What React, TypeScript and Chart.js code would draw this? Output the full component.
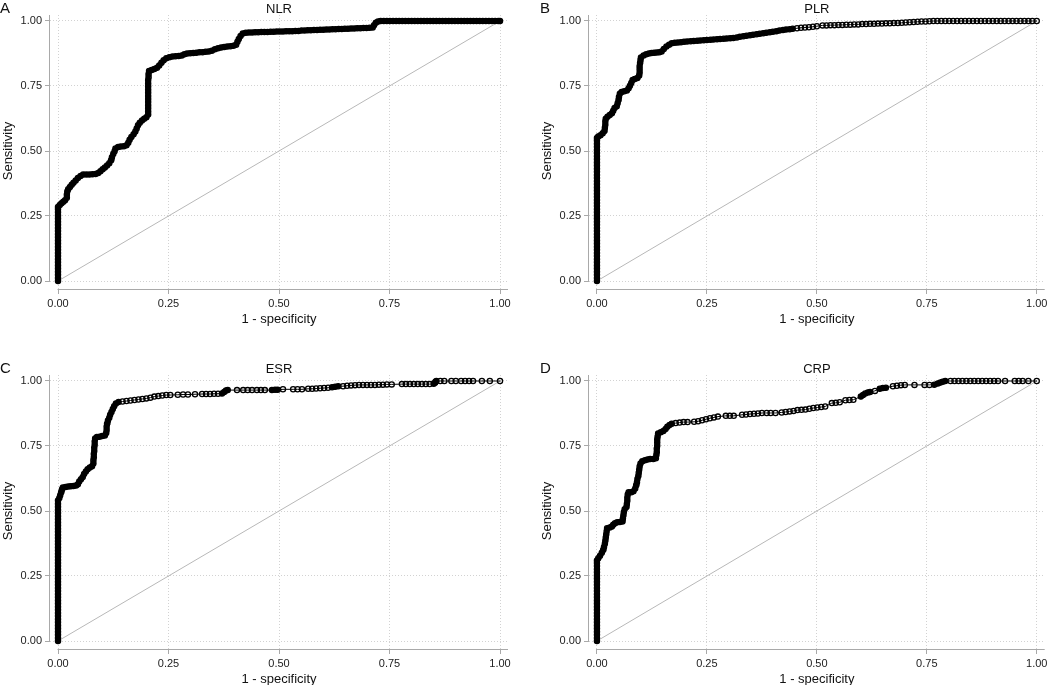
import React, { useEffect, useRef } from 'react';
import { Chart, registerables } from 'chart.js';

Chart.register(...registerables);

const tickValues = [0, 0.25, 0.5, 0.75, 1];
const xAxisTitle = '1 - specificity';
const yAxisTitle = 'Sensitivity';
const panelLetters = ['A', 'B', 'C', 'D'];
const panelTitles = ['NLR', 'PLR', 'ESR', 'CRP'];
const chanceLine = [[0, 0], [1, 1]];

const nlrRoc = [
  [0, 0], [0, 0.012], [0, 0.024], [0, 0.036], [0, 0.048], [0, 0.06], [0, 0.072], [0, 0.084], [0, 0.096], [0, 0.108],
  [0, 0.12], [0, 0.132], [0, 0.144], [0, 0.156], [0, 0.168], [0, 0.18], [0, 0.192], [0, 0.204], [0, 0.216], [0, 0.228],
  [0, 0.24], [0, 0.252], [0, 0.264], [0, 0.276], [0, 0.285],
  [0.004, 0.292], [0.008, 0.299], [0.012, 0.305], [0.016, 0.311], [0.02, 0.32], [0.02, 0.332], [0.021, 0.344], [0.023, 0.353],
  [0.027, 0.362], [0.031, 0.37], [0.035, 0.378], [0.04, 0.387], [0.045, 0.396], [0.051, 0.404], [0.057, 0.41], [0.064, 0.41],
  [0.071, 0.41], [0.078, 0.411], [0.085, 0.412], [0.091, 0.415], [0.096, 0.422], [0.101, 0.43], [0.106, 0.437], [0.111, 0.444],
  [0.116, 0.453], [0.12, 0.464], [0.122, 0.476], [0.125, 0.488], [0.128, 0.499], [0.13, 0.51], [0.136, 0.515], [0.142, 0.517],
  [0.149, 0.518], [0.155, 0.522], [0.159, 0.532], [0.162, 0.543], [0.166, 0.554], [0.171, 0.564], [0.175, 0.575], [0.178, 0.587],
  [0.181, 0.599], [0.185, 0.609], [0.19, 0.617], [0.195, 0.624], [0.2, 0.63], [0.204, 0.64], [0.204, 0.652], [0.204, 0.664],
  [0.204, 0.676], [0.204, 0.688], [0.204, 0.7], [0.204, 0.712], [0.204, 0.724], [0.204, 0.736], [0.204, 0.748], [0.204, 0.76],
  [0.204, 0.772], [0.205, 0.784], [0.205, 0.796], [0.206, 0.808], [0.212, 0.812], [0.218, 0.815], [0.224, 0.82], [0.229, 0.829],
  [0.234, 0.839], [0.239, 0.849], [0.245, 0.857], [0.252, 0.861], [0.259, 0.863], [0.266, 0.864], [0.273, 0.865], [0.28, 0.867],
  [0.286, 0.872], [0.292, 0.875], [0.299, 0.876], [0.306, 0.877], [0.313, 0.878], [0.32, 0.88], [0.327, 0.88], [0.334, 0.882],
  [0.341, 0.883], [0.348, 0.886], [0.355, 0.891], [0.362, 0.895], [0.369, 0.898], [0.376, 0.9], [0.383, 0.902], [0.39, 0.903],
  [0.397, 0.905], [0.403, 0.909], [0.406, 0.92], [0.409, 0.931], [0.413, 0.942], [0.418, 0.952], [0.425, 0.955], [0.432, 0.956],
  [0.439, 0.956], [0.446, 0.957], [0.453, 0.957], [0.46, 0.958], [0.467, 0.958], [0.474, 0.958], [0.481, 0.959], [0.488, 0.959],
  [0.495, 0.96], [0.502, 0.96], [0.509, 0.96], [0.516, 0.961], [0.523, 0.961], [0.53, 0.961], [0.537, 0.962], [0.544, 0.962],
  [0.551, 0.963], [0.558, 0.963], [0.565, 0.964], [0.572, 0.964], [0.579, 0.965], [0.586, 0.965], [0.593, 0.966], [0.6, 0.966],
  [0.607, 0.967], [0.614, 0.967], [0.621, 0.968], [0.628, 0.968], [0.635, 0.969], [0.642, 0.969], [0.649, 0.97], [0.656, 0.97],
  [0.663, 0.971], [0.67, 0.971], [0.677, 0.972], [0.684, 0.972], [0.691, 0.973], [0.698, 0.973], [0.705, 0.974], [0.712, 0.975],
  [0.715, 0.984], [0.719, 0.993], [0.724, 0.998], [0.73, 1],
  [0.737, 1], [0.744, 1], [0.751, 1], [0.758, 1], [0.765, 1], [0.772, 1], [0.779, 1], [0.786, 1], [0.793, 1], [0.8, 1],
  [0.807, 1], [0.814, 1], [0.821, 1], [0.828, 1], [0.835, 1], [0.842, 1], [0.849, 1], [0.856, 1], [0.863, 1], [0.87, 1],
  [0.877, 1], [0.884, 1], [0.891, 1], [0.898, 1], [0.905, 1], [0.912, 1], [0.919, 1], [0.926, 1], [0.933, 1], [0.94, 1],
  [0.947, 1], [0.954, 1], [0.961, 1], [0.968, 1], [0.975, 1], [0.982, 1], [0.989, 1], [0.996, 1], [1, 1],
];

const plrRoc = [
  [0, 0], [0, 0.012], [0, 0.024], [0, 0.036], [0, 0.048], [0, 0.06], [0, 0.072], [0, 0.084], [0, 0.096], [0, 0.108],
  [0, 0.12], [0, 0.132], [0, 0.144], [0, 0.156], [0, 0.168], [0, 0.18], [0, 0.192], [0, 0.204], [0, 0.216], [0, 0.228],
  [0, 0.24], [0, 0.252], [0, 0.264], [0, 0.276], [0, 0.288], [0, 0.3], [0, 0.312], [0, 0.324], [0, 0.336], [0, 0.348],
  [0, 0.36], [0, 0.372], [0, 0.384], [0, 0.396], [0, 0.408], [0, 0.42], [0, 0.432], [0, 0.444], [0, 0.456], [0, 0.468],
  [0, 0.48], [0, 0.492], [0, 0.504], [0, 0.516], [0, 0.528], [0, 0.54], [0, 0.55],
  [0.003, 0.556], [0.008, 0.561], [0.013, 0.568], [0.017, 0.577], [0.018, 0.589], [0.019, 0.601], [0.019, 0.613], [0.02, 0.624],
  [0.024, 0.632], [0.029, 0.638], [0.034, 0.645], [0.037, 0.655], [0.04, 0.665], [0.045, 0.672], [0.047, 0.684], [0.049, 0.696],
  [0.05, 0.708], [0.052, 0.72], [0.056, 0.727], [0.062, 0.73], [0.068, 0.733], [0.072, 0.741], [0.075, 0.751], [0.078, 0.762],
  [0.081, 0.773], [0.086, 0.777], [0.092, 0.781], [0.096, 0.79], [0.097, 0.802], [0.097, 0.814], [0.097, 0.826], [0.098, 0.838],
  [0.099, 0.85], [0.1, 0.86], [0.106, 0.867], [0.112, 0.872], [0.118, 0.875], [0.124, 0.877], [0.13, 0.878], [0.136, 0.879],
  [0.142, 0.88], [0.147, 0.883], [0.152, 0.892], [0.158, 0.902], [0.164, 0.909], [0.17, 0.914], [0.177, 0.916], [0.184, 0.917],
  [0.191, 0.918], [0.198, 0.92],
  [0.205, 0.921], [0.213, 0.922], [0.22, 0.923], [0.228, 0.924], [0.235, 0.925], [0.243, 0.926], [0.25, 0.927], [0.258, 0.928],
  [0.265, 0.929], [0.273, 0.93], [0.28, 0.931], [0.288, 0.932], [0.295, 0.933], [0.303, 0.934], [0.31, 0.935], [0.318, 0.937],
  [0.325, 0.939], [0.333, 0.941], [0.34, 0.943], [0.348, 0.945], [0.355, 0.947], [0.363, 0.949], [0.37, 0.951], [0.378, 0.953],
  [0.385, 0.955], [0.393, 0.957], [0.4, 0.959], [0.408, 0.961], [0.415, 0.963], [0.423, 0.965], [0.43, 0.967], [0.438, 0.968],
  [0.445, 0.97],
  [0.455, 0.972], [0.464, 0.974], [0.473, 0.975], [0.482, 0.976], [0.491, 0.978], [0.5, 0.98], [0.513, 0.983], [0.522, 0.983],
  [0.531, 0.984], [0.54, 0.984], [0.549, 0.985], [0.558, 0.985],
  [0.567, 0.986], [0.576, 0.986], [0.585, 0.987], [0.594, 0.987], [0.603, 0.988], [0.612, 0.988], [0.621, 0.989], [0.63, 0.989],
  [0.639, 0.99], [0.648, 0.99], [0.657, 0.991], [0.666, 0.991], [0.675, 0.992], [0.684, 0.992], [0.693, 0.993], [0.702, 0.994],
  [0.711, 0.995], [0.72, 0.996], [0.729, 0.997], [0.738, 0.998], [0.747, 0.998], [0.756, 0.999], [0.765, 1], [0.774, 1],
  [0.783, 1], [0.792, 1], [0.801, 1], [0.81, 1], [0.819, 1], [0.828, 1], [0.837, 1], [0.846, 1], [0.855, 1], [0.864, 1],
  [0.873, 1], [0.882, 1], [0.891, 1], [0.9, 1], [0.909, 1], [0.918, 1], [0.927, 1], [0.936, 1], [0.945, 1], [0.954, 1],
  [0.963, 1], [0.972, 1], [0.981, 1], [0.99, 1], [1, 1],
];

const esrRoc = [
  [0, 0], [0, 0.012], [0, 0.024], [0, 0.036], [0, 0.048], [0, 0.06], [0, 0.072], [0, 0.084], [0, 0.096], [0, 0.108],
  [0, 0.12], [0, 0.132], [0, 0.144], [0, 0.156], [0, 0.168], [0, 0.18], [0, 0.192], [0, 0.204], [0, 0.216], [0, 0.228],
  [0, 0.24], [0, 0.252], [0, 0.264], [0, 0.276], [0, 0.288], [0, 0.3], [0, 0.312], [0, 0.324], [0, 0.336], [0, 0.348],
  [0, 0.36], [0, 0.372], [0, 0.384], [0, 0.396], [0, 0.408], [0, 0.42], [0, 0.432], [0, 0.444], [0, 0.456], [0, 0.468],
  [0, 0.48], [0, 0.492], [0, 0.504], [0, 0.516], [0, 0.528], [0, 0.54],
  [0.003, 0.55], [0.005, 0.561], [0.007, 0.572], [0.009, 0.583], [0.011, 0.59], [0.017, 0.592], [0.023, 0.594], [0.029, 0.595],
  [0.035, 0.596], [0.041, 0.598], [0.045, 0.603], [0.048, 0.613], [0.052, 0.622], [0.056, 0.631], [0.059, 0.642], [0.063, 0.652],
  [0.067, 0.661], [0.072, 0.667], [0.077, 0.672], [0.08, 0.683], [0.08, 0.695], [0.081, 0.707], [0.081, 0.719], [0.082, 0.731],
  [0.082, 0.743], [0.083, 0.755], [0.083, 0.767], [0.084, 0.779], [0.088, 0.785], [0.094, 0.786], [0.1, 0.788], [0.106, 0.79],
  [0.109, 0.8], [0.11, 0.812], [0.11, 0.824], [0.111, 0.836], [0.113, 0.848], [0.116, 0.859], [0.118, 0.87], [0.121, 0.881],
  [0.124, 0.892], [0.127, 0.903], [0.131, 0.913], [0.137, 0.919],
  [0.146, 0.921], [0.155, 0.923], [0.164, 0.925], [0.173, 0.927], [0.182, 0.929], [0.191, 0.931], [0.2, 0.933], [0.209, 0.936],
  [0.218, 0.94], [0.227, 0.942], [0.236, 0.944], [0.245, 0.946], [0.254, 0.946], [0.271, 0.947], [0.283, 0.948], [0.294, 0.948],
  [0.31, 0.949], [0.326, 0.95], [0.335, 0.95], [0.344, 0.95], [0.353, 0.951], [0.362, 0.951], [0.371, 0.952], [0.376, 0.958],
  [0.38, 0.963], [0.384, 0.965], [0.405, 0.965], [0.419, 0.965], [0.429, 0.965], [0.439, 0.965], [0.45, 0.965], [0.459, 0.965],
  [0.468, 0.965], [0.484, 0.965], [0.491, 0.966], [0.497, 0.966], [0.509, 0.968], [0.532, 0.968], [0.542, 0.968], [0.552, 0.968],
  [0.566, 0.97], [0.575, 0.97], [0.584, 0.971], [0.593, 0.972], [0.602, 0.973], [0.611, 0.974], [0.62, 0.976], [0.627, 0.978],
  [0.634, 0.98], [0.645, 0.98], [0.654, 0.982], [0.663, 0.983], [0.672, 0.984], [0.681, 0.985], [0.69, 0.985], [0.699, 0.985],
  [0.708, 0.985], [0.717, 0.985], [0.726, 0.986], [0.735, 0.986], [0.744, 0.987], [0.755, 0.987], [0.778, 0.988], [0.787, 0.988],
  [0.796, 0.988], [0.805, 0.988], [0.814, 0.988], [0.823, 0.988], [0.832, 0.988], [0.841, 0.988], [0.85, 0.989], [0.853, 0.993],
  [0.854, 0.997], [0.856, 1], [0.865, 1], [0.874, 1], [0.89, 1], [0.9, 1], [0.912, 1], [0.921, 1], [0.93, 1], [0.939, 1],
  [0.959, 1], [0.977, 1], [1, 1],
];

const crpRoc = [
  [0, 0], [0, 0.012], [0, 0.024], [0, 0.036], [0, 0.048], [0, 0.06], [0, 0.072], [0, 0.084], [0, 0.096], [0, 0.108],
  [0, 0.12], [0, 0.132], [0, 0.144], [0, 0.156], [0, 0.168], [0, 0.18], [0, 0.192], [0, 0.204], [0, 0.216], [0, 0.228],
  [0, 0.24], [0, 0.252], [0, 0.264], [0, 0.276], [0, 0.288], [0, 0.3], [0, 0.31],
  [0.003, 0.318], [0.007, 0.328], [0.011, 0.339], [0.014, 0.35], [0.016, 0.362], [0.018, 0.374], [0.019, 0.386], [0.02, 0.398],
  [0.021, 0.41], [0.022, 0.422], [0.023, 0.434], [0.029, 0.437], [0.034, 0.44], [0.037, 0.447], [0.041, 0.453], [0.046, 0.457],
  [0.052, 0.458], [0.058, 0.46], [0.059, 0.471], [0.06, 0.483], [0.061, 0.495], [0.063, 0.507], [0.067, 0.515], [0.068, 0.527],
  [0.069, 0.539], [0.069, 0.551], [0.07, 0.563], [0.072, 0.572], [0.078, 0.572], [0.083, 0.576], [0.087, 0.587], [0.089, 0.599],
  [0.091, 0.611], [0.092, 0.623], [0.094, 0.635], [0.095, 0.647], [0.096, 0.659], [0.097, 0.671], [0.099, 0.683], [0.103, 0.691],
  [0.109, 0.695], [0.115, 0.698], [0.121, 0.7], [0.128, 0.7], [0.134, 0.703], [0.135, 0.715], [0.136, 0.727], [0.136, 0.739],
  [0.137, 0.751], [0.137, 0.763], [0.137, 0.775], [0.138, 0.787], [0.139, 0.798], [0.145, 0.803], [0.151, 0.808], [0.156, 0.815],
  [0.16, 0.824], [0.165, 0.831], [0.17, 0.836],
  [0.179, 0.838], [0.188, 0.84], [0.197, 0.842], [0.206, 0.842], [0.221, 0.843], [0.23, 0.845], [0.239, 0.849], [0.248, 0.853],
  [0.257, 0.857], [0.266, 0.86], [0.275, 0.863], [0.293, 0.866], [0.302, 0.866], [0.311, 0.866], [0.33, 0.87], [0.339, 0.871],
  [0.348, 0.873], [0.357, 0.874], [0.366, 0.875], [0.375, 0.877], [0.386, 0.877], [0.395, 0.877], [0.406, 0.877], [0.42, 0.879],
  [0.429, 0.881], [0.438, 0.883], [0.447, 0.885], [0.456, 0.888], [0.465, 0.889], [0.474, 0.89], [0.483, 0.893], [0.492, 0.896],
  [0.501, 0.898], [0.51, 0.9], [0.519, 0.902], [0.534, 0.915], [0.543, 0.916], [0.552, 0.918], [0.565, 0.926], [0.574, 0.927],
  [0.583, 0.928], [0.6, 0.94], [0.605, 0.946], [0.61, 0.952], [0.616, 0.956], [0.621, 0.958], [0.632, 0.962], [0.643, 0.97],
  [0.65, 0.973], [0.657, 0.974], [0.673, 0.98], [0.682, 0.982], [0.691, 0.984], [0.7, 0.985], [0.722, 0.985], [0.745, 0.985],
  [0.756, 0.985], [0.767, 0.986], [0.775, 0.99], [0.781, 0.994], [0.786, 0.997], [0.792, 1],
  [0.804, 1], [0.813, 1], [0.822, 1], [0.831, 1], [0.84, 1], [0.849, 1], [0.858, 1], [0.867, 1], [0.876, 1], [0.885, 1],
  [0.894, 1], [0.903, 1], [0.912, 1], [0.928, 1], [0.95, 1], [0.959, 1], [0.968, 1], [0.981, 1], [1, 1],
];

const rocSeries = [nlrRoc, plrRoc, esrRoc, crpRoc];

const FONT = '"Liberation Sans", Arial, Helvetica, sans-serif';
const AXIS_GRAY = '#a9a9a9';
const GRID_GRAY = '#d2d2d2';

const decorPlugin = {
  id: 'decor',
  afterDraw(chart: any, _args: any, opts: any) {
    const { ctx, chartArea } = chart;
    const xs = chart.scales.x;
    const ys = chart.scales.y;
    const x0 = xs.getPixelForValue(0);
    const x1 = xs.getPixelForValue(1);
    const y0 = ys.getPixelForValue(0);
    const y1 = ys.getPixelForValue(1);
    ctx.save();
    ctx.strokeStyle = AXIS_GRAY;
    ctx.lineWidth = 1;
    ctx.beginPath();
    ctx.moveTo(Math.round(chartArea.left) - 0.5, chartArea.top);
    ctx.lineTo(Math.round(chartArea.left) - 0.5, y0 + 1);
    ctx.moveTo(x0 - 0.5, Math.round(chartArea.bottom) + 0.5);
    ctx.lineTo(chartArea.right, Math.round(chartArea.bottom) + 0.5);
    ctx.stroke();

    ctx.fillStyle = '#111';
    ctx.textBaseline = 'middle';
    ctx.textAlign = 'left';
    ctx.font = `15px ${FONT}`;
    ctx.fillText(opts.letter, opts.letterX, 9);
    ctx.textAlign = 'center';
    ctx.font = `13px ${FONT}`;
    ctx.fillText(opts.title, (x0 + x1) / 2, 9);
    ctx.fillText(xAxisTitle, (x0 + x1) / 2, 319);
    ctx.translate(opts.yTitleX, (y0 + y1) / 2);
    ctx.rotate(-Math.PI / 2);
    ctx.fillText(yAxisTitle, 0, 0);
    ctx.restore();
  },
};

function axisOptions(pixelSpan: number, lowPad: number, highPad: number, isX: boolean) {
  return {
    type: 'linear',
    min: -lowPad / pixelSpan,
    max: 1 + highPad / pixelSpan,
    afterBuildTicks: (scale: any) => {
      scale.ticks = tickValues.map((v) => ({ value: v }));
    },
    afterFit: (scale: any) => {
      if (isX) {
        scale.height = 71;
        scale.paddingLeft = 0;
        scale.paddingRight = 0;
      } else {
        scale.width = 50;
        scale.paddingTop = 0;
        scale.paddingBottom = 0;
      }
    },
    grid: {
      color: GRID_GRAY,
      lineWidth: 1,
      drawTicks: true,
      tickLength: 5,
      tickColor: AXIS_GRAY,
      tickWidth: 1,
      tickBorderDash: [],
    },
    border: { display: false, dash: [1, 2] },
    ticks: {
      color: '#222',
      padding: 3,
      maxRotation: 0,
      autoSkip: false,
      font: { family: FONT, size: 11 },
      callback: (v: any) => Number(v).toFixed(2),
    },
  };
}

type PanelProps = { index: number; left: number; top: number; width: number; rightPad: number; letterX: number; yTitleX: number };

function RocPanel({ index, left, top, width, rightPad, letterX, yTitleX }: PanelProps) {
  const ref = useRef<HTMLCanvasElement | null>(null);
  useEffect(() => {
    if (!ref.current) return;
    const roc = rocSeries[index];
    const chart = new Chart(ref.current, {
      type: 'line',
      data: {
        datasets: [
          {
            data: roc.map(([fx, ty]) => ({ x: fx, y: ty })),
            borderColor: '#000',
            borderWidth: 1,
            borderCapStyle: 'round',
            borderJoinStyle: 'round',
            pointRadius: 2.6,
            pointBorderWidth: 1.3,
            pointBorderColor: '#000',
            pointBackgroundColor: 'rgba(255,255,255,0)',
            pointStyle: 'circle',
            tension: 0,
            fill: false,
            segment: {
              borderWidth: (c: any) => (Math.hypot(c.p1.x - c.p0.x, c.p1.y - c.p0.y) < 3.8 ? 5 : 1),
            },
          } as any,
          {
            data: chanceLine.map(([fx, ty]) => ({ x: fx, y: ty })),
            borderColor: '#b8b8b8',
            borderWidth: 1,
            pointRadius: 0,
            tension: 0,
            fill: false,
          },
        ],
      },
      options: {
        animation: false,
        responsive: false,
        maintainAspectRatio: false,
        events: [],
        layout: { padding: { top: 15, right: rightPad, bottom: 0, left: 0 } },
        plugins: {
          legend: { display: false },
          title: { display: false },
          tooltip: { enabled: false },
          decor: { letter: panelLetters[index], title: panelTitles[index], letterX, yTitleX },
        } as any,
        scales: {
          x: axisOptions(442, 8, 8, true) as any,
          y: axisOptions(260, 8, 6, false) as any,
        },
      },
      plugins: [decorPlugin as any],
    });
    return () => chart.destroy();
  }, [index, rightPad, letterX, yTitleX]);
  return (
    <canvas
      ref={ref}
      width={width}
      height={360}
      style={{ position: 'absolute', left, top, width, height: 360, display: 'block' }}
    />
  );
}

export default function App() {
  return (
    <div
      style={{
        position: 'fixed',
        left: 0,
        top: 0,
        width: 1050,
        height: 685,
        overflow: 'hidden',
        background: '#ffffff',
      }}
    >
      <RocPanel index={0} left={0} top={0} width={539} rightPad={31} letterX={0} yTitleX={8} />
      <RocPanel index={1} left={539} top={0} width={511} rightPad={2} letterX={1} yTitleX={8} />
      <RocPanel index={2} left={0} top={360} width={539} rightPad={31} letterX={0} yTitleX={8} />
      <RocPanel index={3} left={539} top={360} width={511} rightPad={2} letterX={1} yTitleX={8} />
    </div>
  );
}
